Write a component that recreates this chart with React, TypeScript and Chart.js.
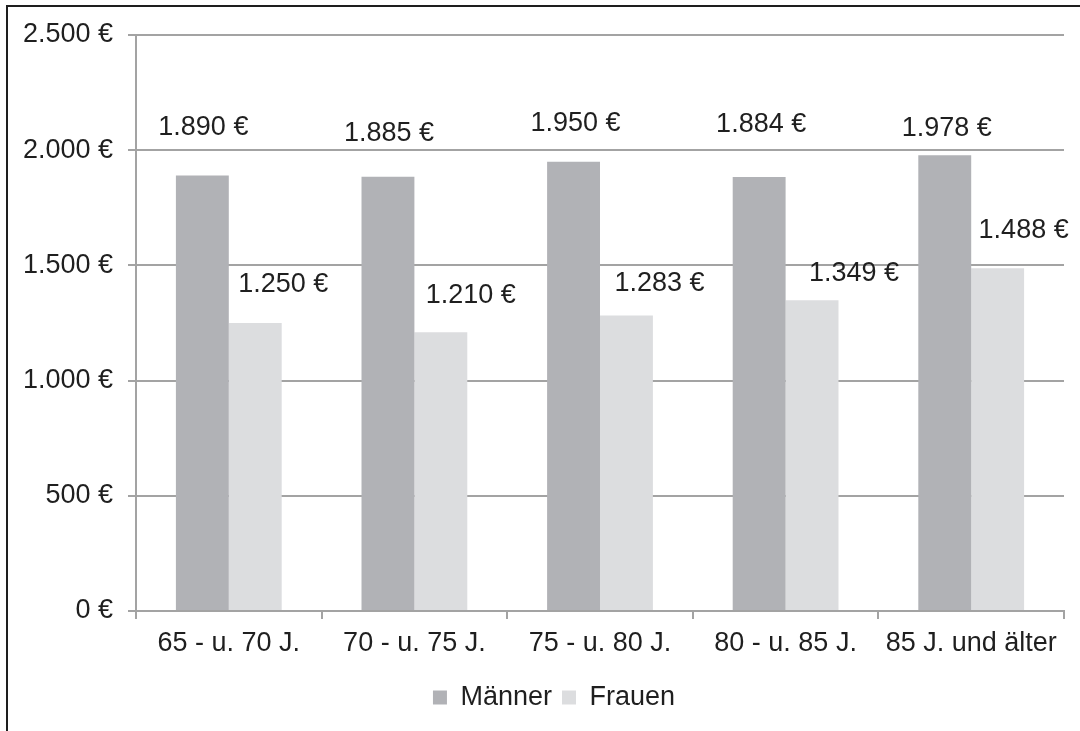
import React, { useEffect, useRef } from "react";
import { Chart, registerables } from "chart.js";

Chart.register(...registerables);

const categories = ["65 - u. 70 J.", "70 - u. 75 J.", "75 - u. 80 J.", "80 - u. 85 J.", "85 J. und älter"];
const maenner = [1890, 1885, 1950, 1884, 1978];
const frauen = [1250, 1210, 1283, 1349, 1488];
const yTicks = [0, 500, 1000, 1500, 2000, 2500];

// label placement (pixels relative to the bar top centre), as in the reference
const maennerLabelDx = [1, 1, 2, 2, 2];
const maennerLabelDy = [48, 43, 38, 52, 27];
const frauenLabelDx = [28, 30, 33, 42, 26];
const frauenLabelDy = [38, 37, 32, 27, 38];

const FONT = "'Liberation Sans', Arial, sans-serif";
const FS = 27;
const TEXT = "#1f1f1f";
const GRID = "#a3a3a3";

const fmt = (v: number) => v.toLocaleString("de-DE") + " €";

const labelPlugin = {
  id: "barLabels",
  afterLayout(chart: any) {
    const l = chart.legend;
    if (l) {
      l.left += 22;
      l.right += 22;
    }
  },
  afterDatasetsDraw(chart: any) {
    const ctx = chart.ctx;
    ctx.save();
    ctx.font = `${FS}px ${FONT}`;
    ctx.fillStyle = TEXT;
    ctx.textAlign = "center";
    ctx.textBaseline = "middle";
    const offs = [
      [maennerLabelDx, maennerLabelDy],
      [frauenLabelDx, frauenLabelDy],
    ];
    chart.data.datasets.forEach((ds: any, di: number) => {
      const meta = chart.getDatasetMeta(di);
      meta.data.forEach((el: any, i: number) => {
        const v = ds.data[i];
        ctx.fillText(fmt(v), el.x + offs[di][0][i], el.y - offs[di][1][i]);
      });
    });
    ctx.restore();
  },
};

export default function App() {
  const ref = useRef<HTMLCanvasElement>(null);
  useEffect(() => {
    if (!ref.current) return;
    const chart = new Chart(ref.current, {
      type: "bar",
      data: {
        labels: categories,
        datasets: [
          { label: "Männer", data: maenner, backgroundColor: "#b1b2b6", barPercentage: 1, categoryPercentage: 0.57 },
          { label: "Frauen", data: frauen, backgroundColor: "#dcdddf", barPercentage: 1, categoryPercentage: 0.57 },
        ],
      },
      options: {
        responsive: false,
        animation: false,
        devicePixelRatio: 1,
        layout: { padding: { left: 0, top: 35, right: 16, bottom: 10 } },
        plugins: {
          legend: {
            position: "bottom",
            labels: {
              boxWidth: 14,
              boxHeight: 14,
              padding: 10,
              color: TEXT,
              font: { family: FONT, size: FS },
            },
          },
          tooltip: { enabled: false },
        },
        scales: {
          x: {
            grid: { display: true, drawOnChartArea: false, color: GRID, lineWidth: 2, tickLength: 8, offset: true },
            border: { display: true, color: GRID, width: 2 },
            ticks: { color: TEXT, font: { family: FONT, size: FS }, padding: 8, maxRotation: 0, autoSkip: false },
            afterFit: (s: any) => { s.height = 63; },
          },
          y: {
            min: 0,
            max: 2500,
            afterBuildTicks: (s: any) => { s.ticks = yTicks.map((v) => ({ value: v })); },
            grid: { color: GRID, lineWidth: 2, tickLength: 8 },
            border: { display: true, color: GRID, width: 2 },
            ticks: { color: TEXT, font: { family: FONT, size: FS }, padding: 15, callback: (v: any) => fmt(Number(v)) },
            afterFit: (s: any) => { s.width = 136; },
          },
        },
      },
      plugins: [labelPlugin],
    });
    return () => chart.destroy();
  }, []);
  return (
    <div style={{ position: "fixed", left: 0, top: 0, width: 1080, height: 731, background: "#fff" }}>
      <canvas ref={ref} width={1080} height={731} style={{ position: "absolute", left: 0, top: 0, width: 1080, height: 731 }} />
      <div style={{ position: "absolute", left: 6, top: 5, width: 1080, height: 740, borderLeft: "2px solid #1e1e1e", borderTop: "2px solid #1e1e1e", pointerEvents: "none" }} />
    </div>
  );
}
